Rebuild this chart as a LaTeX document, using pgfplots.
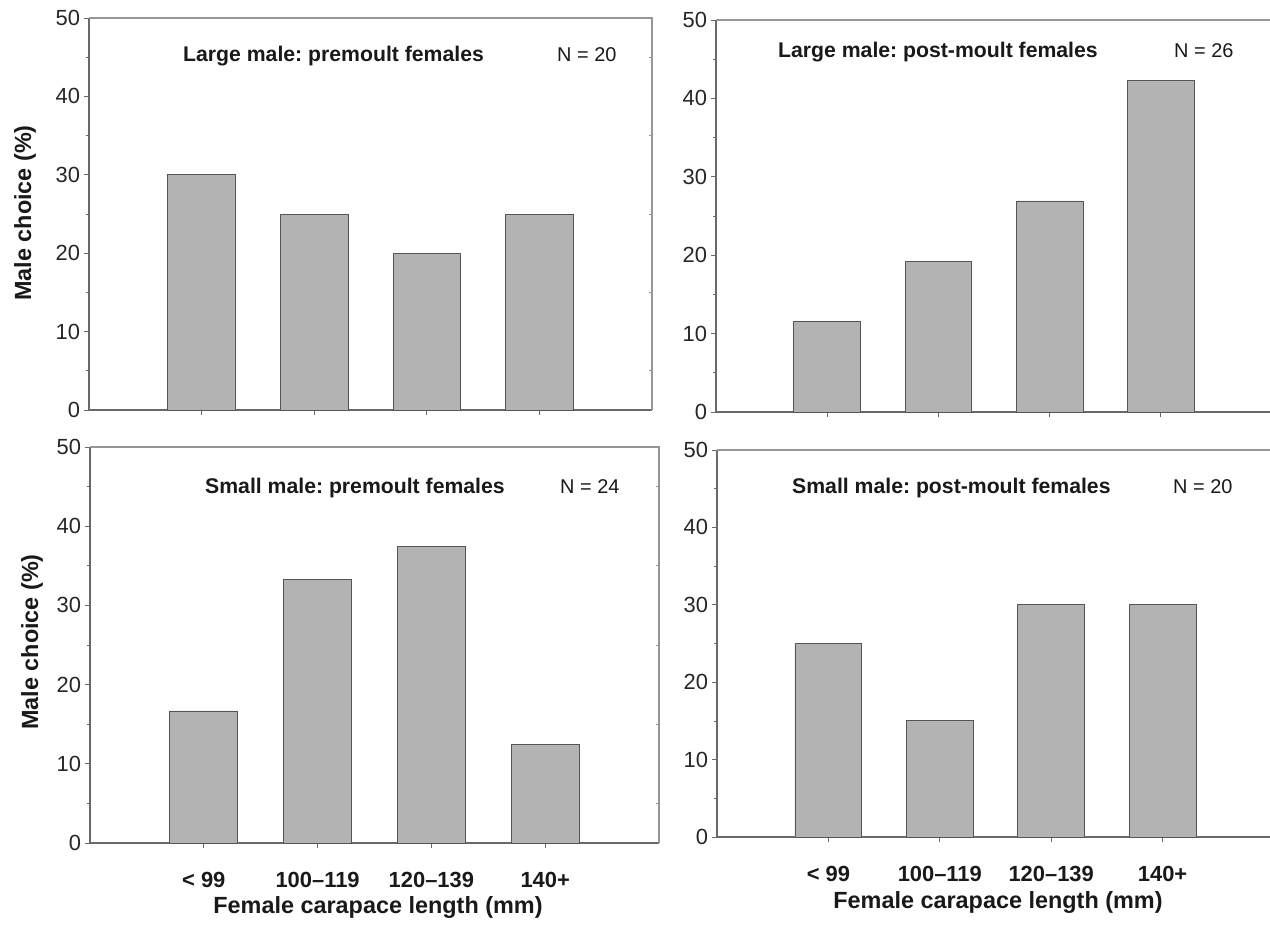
\documentclass[border=0pt]{standalone}
\usepackage{pgfplots}
\pgfplotsset{compat=1.18}
\usepackage{fontspec}
\setmainfont{Liberation Sans}
\frenchspacing
\definecolor{barfill}{RGB}{179,179,179}
\definecolor{baredge}{RGB}{85,85,85}
\definecolor{spine}{RGB}{105,105,105}
\definecolor{spinelight}{RGB}{150,150,150}

\pgfplotsset{
 panel/.style={
  scale only axis,
  anchor=south west,
  xmin=-1, xmax=4, ymin=0, ymax=50,
  enlargelimits=false,
  axis lines*=left,
  axis line style={spine, line width=1.1bp, -},
  xtick={0,1,2,3},
  ytick={0,10,...,50},
  minor y tick num=1,
  tick align=outside,
  major tick length=5bp,
  minor tick length=3bp,
  tick style={spine, line width=0.8bp},
  /pgf/number format/assume math mode=true,
  yticklabel style={font=\fontsize{22}{22}\selectfont, text=black!85, xshift=-0.5bp},
  xticklabel style={font=\bfseries\fontsize{22}{22}\selectfont, text=black!90, anchor=base, yshift=-39bp},
  ybar, bar width=0.6,
  clip=false,
 },
 mybar/.style={fill=barfill, draw=baredge, line width=0.9bp},
}
\newcommand{\frameTR}{\draw[spinelight, line width=1.1bp] (rel axis cs:0,1) -- (rel axis cs:1,1) -- (rel axis cs:1,0);}
\newcommand{\rightticks}{\pgfplotsinvokeforeach{0.1,0.3,0.5,0.7,0.9}{\draw[spinelight, line width=0.8bp] (rel axis cs:1,##1) -- ([xshift=-3bp]rel axis cs:1,##1);}}

\begin{document}
\begin{tikzpicture}
\useasboundingbox (0,0) rectangle (1270bp,-925bp);

% Top-left
\begin{axis}[panel, at={(89bp,-410bp)}, width=563bp, height=392bp, xticklabels={}]
\addplot[mybar] coordinates {(0,30) (1,25) (2,20) (3,25)};
\frameTR
\rightticks
\end{axis}

% Top-right
\begin{axis}[panel, at={(716bp,-412bp)}, width=556bp, height=392bp, xticklabels={}]
\addplot[mybar] coordinates {(0,11.54) (1,19.23) (2,26.92) (3,42.31)};
\frameTR
\end{axis}

% Bottom-left
\begin{axis}[panel, at={(90bp,-843bp)}, width=569bp, height=396bp,
  xticklabels={< 99, 100–119, 120–139, 140+}]
\addplot[mybar] coordinates {(0,16.67) (1,33.33) (2,37.5) (3,12.5)};
\frameTR
\rightticks
\end{axis}

% Bottom-right
\begin{axis}[panel, at={(717bp,-837bp)}, width=557bp, height=387bp,
  xticklabels={< 99, 100–119, 120–139, 140+}]
\addplot[mybar] coordinates {(0,25) (1,15) (2,30) (3,30)};
\frameTR
\end{axis}

% Panel titles
\begin{scope}[every node/.style={inner sep=0pt, anchor=base west, text=black!90}]
\node[font=\bfseries\fontsize{21.3}{21.3}\selectfont] at (183bp,-61bp) {Large male: premoult females};
\node[font=\fontsize{20}{20}\selectfont] at (557bp,-61bp) {N = 20};
\node[font=\bfseries\fontsize{21.3}{21.3}\selectfont] at (778bp,-57bp) {Large male: post-moult females};
\node[font=\fontsize{20}{20}\selectfont] at (1174bp,-57bp) {N = 26};
\node[font=\bfseries\fontsize{21.3}{21.3}\selectfont] at (205bp,-493bp) {Small male: premoult females};
\node[font=\fontsize{20}{20}\selectfont] at (560bp,-493bp) {N = 24};
\node[font=\bfseries\fontsize{21.3}{21.3}\selectfont] at (792bp,-493bp) {Small male: post-moult females};
\node[font=\fontsize{20}{20}\selectfont] at (1173bp,-493bp) {N = 20};
\end{scope}

% Axis labels
\begin{scope}[every node/.style={inner sep=0pt, text=black!90, font=\bfseries\fontsize{23.5}{23.5}\selectfont}]
\node[rotate=90, anchor=base] at (31bp,-213bp) {Male choice (\%)};
\node[rotate=90, anchor=base] at (38bp,-642bp) {Male choice (\%)};
\node[anchor=base] at (378bp,-913bp) {Female carapace length (mm)};
\node[anchor=base] at (998bp,-908bp) {Female carapace length (mm)};
\end{scope}
\end{tikzpicture}
\end{document}
